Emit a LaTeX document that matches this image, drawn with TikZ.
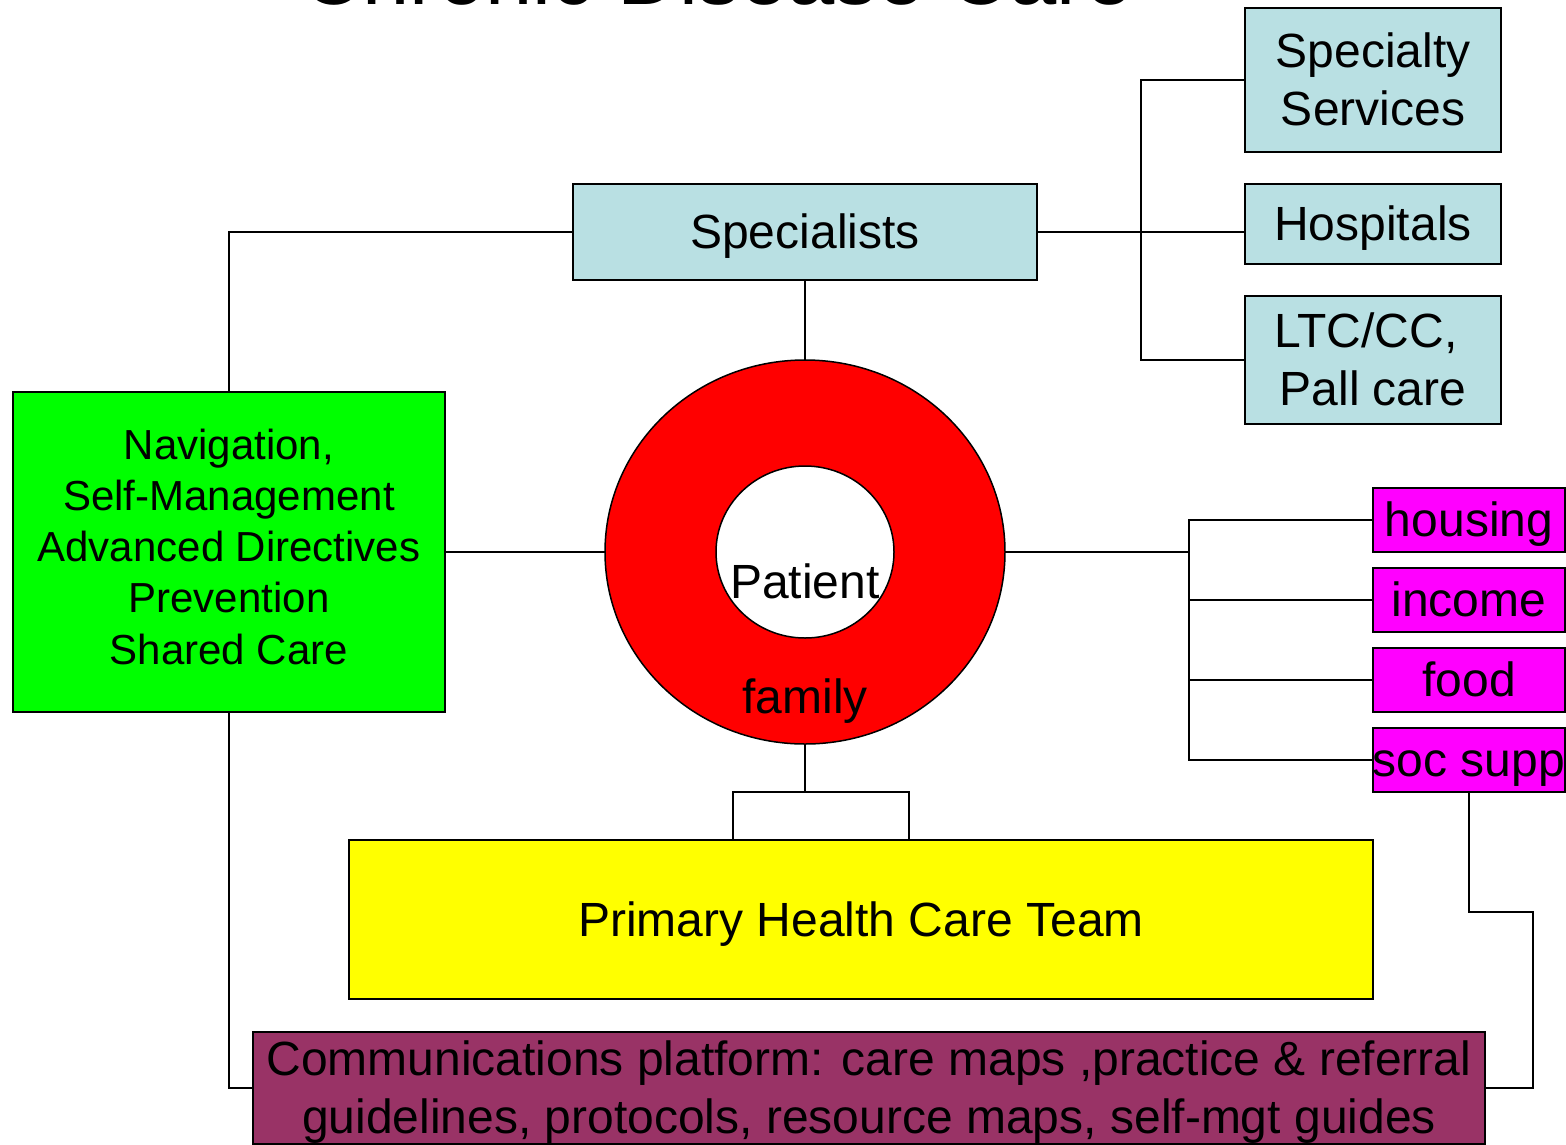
\documentclass[tikz,border=0pt]{standalone}
\usepackage{fontspec}
\setmainfont{Liberation Sans}
\usetikzlibrary{shapes.geometric}
\definecolor{lblue}{RGB}{185,224,227}
\definecolor{plum}{RGB}{153,51,102}
\definecolor{pgreen}{RGB}{0,255,0}
\definecolor{pred}{RGB}{255,0,0}
\definecolor{pyellow}{RGB}{255,255,0}
\definecolor{pmagenta}{RGB}{255,0,255}
\newcommand\pps{\rule[-0.212em]{0pt}{1.117em}}
\begin{document}
\begin{tikzpicture}[x=1pt,y=-1pt,
  box/.style={draw=black, line width=2pt, rectangle, inner sep=0pt, outer sep=0pt, align=center},
  conn/.style={draw=black, line width=2pt},
  fbig/.style={font=\fontsize{48}{58}\selectfont},
  fmid/.style={font=\fontsize{42}{51.25}\selectfont},
  ring/.style={draw=black, line width=1.5pt, ellipse, inner sep=0pt, outer sep=0pt}]
\useasboundingbox (0,0) rectangle (1566,1144);
\fill[white] (0,0) rectangle (1566,1144);

\node[font=\fontsize{85}{100}\selectfont, anchor=base] (title) at (717,4) {Chronic Disease Care};

% right column
\node[box, fbig, fill=lblue, minimum width=256pt, minimum height=144pt] (ss) at (1373,80) {\pps Specialty\\\pps Services};
\node[box, fbig, fill=lblue, minimum width=256pt, minimum height=80pt] (hosp) at (1373,224) {\pps Hospitals};
\node[box, fbig, fill=lblue, minimum width=256pt, minimum height=128pt] (ltc) at (1373,360) {\pps LTC/CC,\hspace*{14pt}\\\pps Pall care};

\node[box, fbig, fill=lblue, minimum width=464pt, minimum height=96pt] (spec) at (805,232) {\pps Specialists};

\node[box, fmid, fill=pgreen, minimum width=432pt, minimum height=320pt] (nav) at (229,552)
  {\pps Navigation,\\\pps Self-Management\\\pps Advanced Directives\\\pps Prevention\\\pps Shared Care\rule[-19pt]{0pt}{1pt}};

\node[ring, fill=pred, minimum width=400pt, minimum height=384pt] (outer) at (805,552) {};
\node[ring, fill=white, minimum width=178pt, minimum height=172pt] (inner) at (805,552) {};
\node[fbig, anchor=base, inner sep=0pt] (pt) at (805,598) {Patient};
\node[fbig, anchor=base, inner sep=0pt] (fam) at (805,713) {family};

\node[box, fbig, fill=pmagenta, minimum width=192pt, minimum height=64pt] (housing) at (1469,520) {\pps housing};
\node[box, fbig, fill=pmagenta, minimum width=192pt, minimum height=64pt] (income) at (1469,600) {\pps income};
\node[box, fbig, fill=pmagenta, minimum width=192pt, minimum height=64pt] (food) at (1469,680) {\pps food};
\node[box, fbig, fill=pmagenta, minimum width=192pt, minimum height=64pt] (socsupp) at (1469,760) {\pps soc supp};

\node[box, fbig, fill=pyellow, minimum width=1024pt, minimum height=159pt] (phc) at (861,919.5) {\pps Primary Health Care Team};

\node[box, fbig, fill=plum, minimum width=1232pt, minimum height=112pt] (comm) at (869,1088)
  {\pps Communications platform: care maps ,practice \& referral\\\pps guidelines, protocols, resource maps, self-mgt guides};

% connectors
\coordinate (jr) at (1141,232);
\draw[conn] (spec.east) -- (jr);
\draw[conn] (ss.west) -| (jr) |- (ltc.west);
\draw[conn] (jr) -- (jr -| hosp.west);
\draw[conn] (spec.west) -| (nav.north);
\draw[conn] (spec.south) -- (outer.north);
\draw[conn] (nav.east) -- (outer.west);

\coordinate (jm) at (1189,552);
\draw[conn] (outer.east) -- (jm);
\draw[conn] (housing.west) -| (jm) |- (socsupp.west);
\draw[conn] (income.west) -| (jm);
\draw[conn] (food.west) -| (jm);

\coordinate (jb) at (805,792);
\coordinate (bl) at (733,792);
\coordinate (br) at (909,792);
\draw[conn] (outer.south) -- (jb);
\draw[conn] (bl |- phc.north) -- (bl) -- (br) -- (br |- phc.north);

\draw[conn] (nav.south) |- (comm.west);
\coordinate (k) at (1533,912);
\draw[conn] (socsupp.south) |- (k) |- (comm.east);
\end{tikzpicture}
\end{document}
